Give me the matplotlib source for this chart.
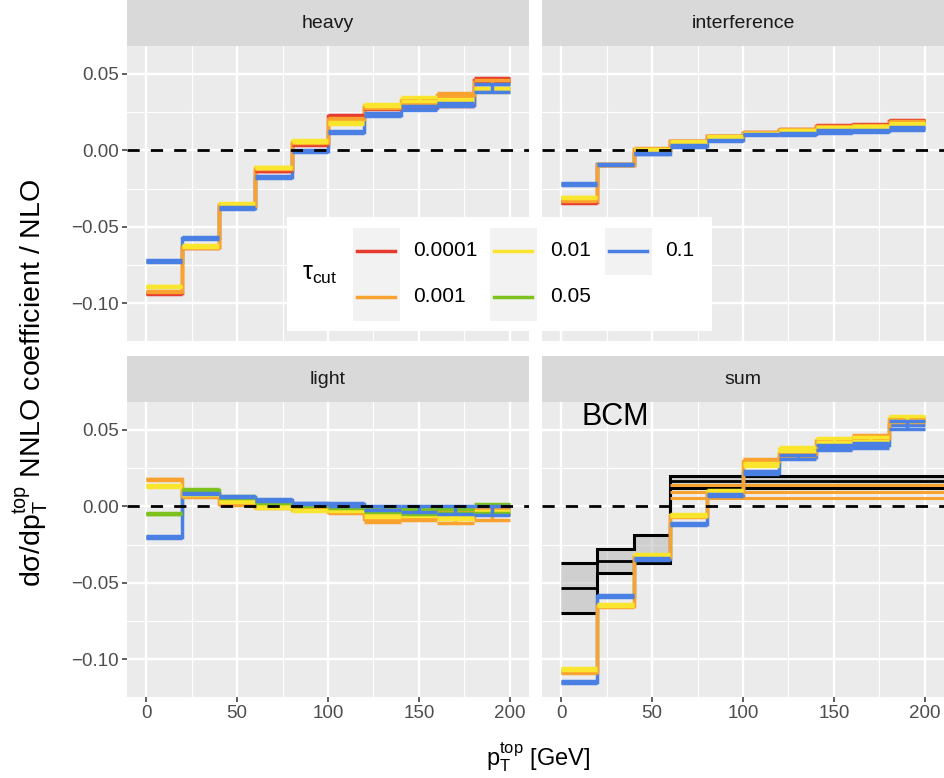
import numpy as np
import matplotlib.pyplot as plt
from matplotlib.patches import Rectangle
from matplotlib.lines import Line2D
from matplotlib.ticker import FuncFormatter

plt.rcParams['font.family'] = ['Liberation Sans', 'DejaVu Sans']
plt.rcParams['mathtext.fontset'] = 'custom'
plt.rcParams['mathtext.rm'] = 'Liberation Sans'
plt.rcParams['mathtext.it'] = 'Liberation Sans:italic'
plt.rcParams['mathtext.bf'] = 'Liberation Sans:bold'

# ---------------- datos ----------------
edges = np.arange(0, 201, 20)
taus = ['0.0001', '0.001', '0.01', '0.05', '0.1']
tau_colors = ['#E63B2E', '#F9A22F', '#F9E52E', '#7DC11D', '#4A80E4']
panels = ['heavy', 'interference', 'light', 'sum']

heavy_val = {
    '0.0001': [-0.0935, -0.0632, -0.0355, -0.0134, 0.0039, 0.0223, 0.0277, 0.0297, 0.0303, 0.0461],
    '0.001':  [-0.0924, -0.0635, -0.0362, -0.0120, 0.0050, 0.0208, 0.0282, 0.0322, 0.0362, 0.0448],
    '0.01':   [-0.0890, -0.0625, -0.0350, -0.0112, 0.0060, 0.0180, 0.0297, 0.0336, 0.0328, 0.0396],
    '0.1':    [-0.0725, -0.0573, -0.0378, -0.0173, -0.0005, 0.0119, 0.0234, 0.0277, 0.0300, 0.0409],
}
heavy_err = {
    '0.0001': [0.0004, 0.0004, 0.0004, 0.0004, 0.0005, 0.0006, 0.0008, 0.0008, 0.0010, 0.0010],
    '0.001':  [0.0004, 0.0004, 0.0004, 0.0004, 0.0005, 0.0006, 0.0008, 0.0010, 0.0015, 0.0012],
    '0.01':   [0.0005, 0.0005, 0.0005, 0.0005, 0.0006, 0.0008, 0.0008, 0.0010, 0.0010, 0.0012],
    '0.1':    [0.0005, 0.0005, 0.0005, 0.0006, 0.0006, 0.0008, 0.0010, 0.0010, 0.0012, 0.0024],
}

interf_val = {
    '0.0001': [-0.0340, -0.0094, 0.0000, 0.0058, 0.0092, 0.0116, 0.0134, 0.0162, 0.0169, 0.0195],
    '0.001':  [-0.0329, -0.0094, 0.0010, 0.0060, 0.0093, 0.0115, 0.0133, 0.0156, 0.0163, 0.0185],
    '0.01':   [-0.0307, -0.0091, 0.0006, 0.0054, 0.0090, 0.0112, 0.0130, 0.0150, 0.0158, 0.0175],
    '0.1':    [-0.0221, -0.0091, -0.0022, 0.0028, 0.0065, 0.0104, 0.0108, 0.0123, 0.0127, 0.0143],
}
interf_err = {
    '0.0001': [0.0004] * 10,
    '0.001':  [0.0004] * 10,
    '0.01':   [0.0004] * 10,
    '0.1':    [0.0004, 0.0004, 0.0004, 0.0004, 0.0005, 0.0005, 0.0006, 0.0008, 0.0008, 0.0008],
}

light_val = {
    '0.001': [0.0176, 0.0067, 0.0013, -0.0005, -0.0017, -0.0037, -0.0080, -0.0075, -0.0070, -0.0048],
    '0.01':  [0.0133, 0.0080, 0.0035, -0.0005, -0.0026, -0.0020, -0.0057, -0.0052, -0.0072, -0.0040],
    '0.05':  [-0.0048, 0.0107, 0.0060, 0.0030, 0.0008, -0.0002, -0.0030, -0.0035, -0.0030, -0.0013],
    '0.1':   [-0.0200, 0.0085, 0.0063, 0.0041, 0.0020, 0.0013, -0.0010, -0.0018, -0.0025, -0.0027],
}
light_err = {
    '0.001': [0.0005, 0.0005, 0.0005, 0.0005, 0.0005, 0.0008, 0.0025, 0.0015, 0.0040, 0.0040],
    '0.01':  [0.0005, 0.0005, 0.0005, 0.0005, 0.0005, 0.0008, 0.0010, 0.0010, 0.0010, 0.0010],
    '0.05':  [0.0005, 0.0005, 0.0005, 0.0005, 0.0005, 0.0008, 0.0010, 0.0015, 0.0015, 0.0030],
    '0.1':   [0.0005, 0.0005, 0.0005, 0.0005, 0.0005, 0.0008, 0.0015, 0.0020, 0.0027, 0.0029],
}

sum_val = {
    '0.001': [-0.1087, -0.0650, -0.0330, -0.0065, 0.0085, 0.0300, 0.0340, 0.0425, 0.0449, 0.0565],
    '0.01':  [-0.1065, -0.0645, -0.0320, -0.0059, 0.0100, 0.0275, 0.0377, 0.0433, 0.0440, 0.0575],
    '0.1':   [-0.1152, -0.0586, -0.0346, -0.0118, 0.0074, 0.0220, 0.0322, 0.0384, 0.0399, 0.0530],
}
sum_err = {
    '0.001': [0.0006, 0.0006, 0.0006, 0.0006, 0.0008, 0.0010, 0.0012, 0.0012, 0.0015, 0.0015],
    '0.01':  [0.0006, 0.0006, 0.0006, 0.0006, 0.0008, 0.0010, 0.0012, 0.0012, 0.0015, 0.0015],
    '0.1':   [0.0006, 0.0006, 0.0006, 0.0006, 0.0008, 0.0010, 0.0012, 0.0015, 0.0015, 0.0027],
}

# banda BCM (panel sum)
bcm_edges = [0, 20, 40, 60, 250]
bcm_upper = [-0.0373, -0.0277, -0.0190, 0.0200]
bcm_center = [-0.0536, -0.0357, -0.0365, 0.0169]
bcm_lower = [-0.0695, -0.0438, -0.0368, 0.0117]
bcm_orange = [0.0137, 0.0093, 0.0053]

panel_data = {
    'heavy': (heavy_val, heavy_err),
    'interference': (interf_val, interf_err),
    'light': (light_val, light_err),
    'sum': (sum_val, sum_err),
}

# ---------------- figura ----------------
W, H = 945, 778
fig = plt.figure(figsize=(W / 100, H / 100), dpi=100)


def fx(x):
    return x / W


def fy(y):
    return 1 - y / H


cols = [(127, 529), (542, 944)]
rows = [(46, 341), (402, 697)]
strip_h = 46

axes = {}
for i, name in enumerate(panels):
    r, c = divmod(i, 2)
    x0, x1 = cols[c]
    y0, y1 = rows[r]
    ax = fig.add_axes([fx(x0), fy(y1), fx(x1 - x0), (y1 - y0) / H])
    sax = fig.add_axes([fx(x0), fy(y0), fx(x1 - x0), strip_h / H])
    sax.set_facecolor('#D9D9D9')
    sax.set_xticks([])
    sax.set_yticks([])
    for s in sax.spines.values():
        s.set_visible(False)
    sax.text(0.5, 0.5, name, ha='center', va='center', fontsize=14,
             color='#1A1A1A', transform=sax.transAxes)

    ax.set_facecolor('#EBEBEB')
    for s in ax.spines.values():
        s.set_visible(False)
    ax.set_xlim(-10.5, 210.5)
    ax.set_ylim(-0.1248, 0.0683)
    ax.set_xticks([0, 50, 100, 150, 200])
    ax.set_xticks([25, 75, 125, 175], minor=True)
    ax.set_yticks([-0.10, -0.05, 0.0, 0.05])
    ax.set_yticks([-0.075, -0.025, 0.025], minor=True)
    ax.yaxis.set_major_formatter(FuncFormatter(lambda v, p: f'{v:.2f}'.replace('-', '\u2212')))
    ax.grid(which='major', color='white', lw=1.7)
    ax.grid(which='minor', color='white', lw=0.8)
    ax.set_axisbelow(True)
    ax.tick_params(which='major', length=3.5, width=1.1, color='#333333',
                   labelcolor='#4D4D4D', labelsize=13.5, pad=2.5)
    ax.tick_params(which='minor', length=0)
    if c == 1:
        ax.tick_params(left=False, labelleft=False)
    if r == 0:
        ax.tick_params(bottom=False, labelbottom=False)
    axes[name] = ax

mids = (edges[:-1] + edges[1:]) / 2

# banda BCM
ax = axes['sum']
ax.stairs(bcm_upper, bcm_edges, baseline=bcm_lower, fill=True, color='#B5B5B5',
          alpha=0.5, zorder=2)
for vals, lw in [(bcm_upper, 2.2), (bcm_center, 2.0), (bcm_lower, 2.2)]:
    ax.stairs(vals, bcm_edges, baseline=None, color='black', lw=lw, zorder=2.5)
for v in bcm_orange:
    ax.hlines(v, bcm_edges[3], bcm_edges[4], color='#F9A22F', lw=2.2, zorder=2.6)
ax.text(30, 0.0585, 'BCM', fontsize=22, ha='center', va='center', color='black')

# series: primero los escalones, luego las barras de error
step_order = ['0.0001', '0.01', '0.05', '0.1', '0.001']
lw_s = 2.5
for name in panels:
    ax = axes[name]
    vals, errs = panel_data[name]
    for tau in step_order:
        if tau in vals:
            col = tau_colors[taus.index(tau)]
            ax.stairs(vals[tau], edges, baseline=None, color=col, lw=lw_s, zorder=3)
    for tau, col in zip(taus, tau_colors):
        if tau not in vals:
            continue
        v = np.array(vals[tau])
        e = np.array(errs[tau])
        ax.hlines(v + e, edges[:-1], edges[1:], color=col, lw=lw_s, zorder=3.2)
        ax.hlines(v - e, edges[:-1], edges[1:], color=col, lw=lw_s, zorder=3.2)
        ax.vlines(mids, v - e, v + e, color=col, lw=lw_s, zorder=3.2)
    ax.axhline(0, color='black', lw=2.0, linestyle=(0, (4.4, 4.0)), zorder=4)

# etiquetas de ejes
fig.text(fx(538), fy(757), r'p$_{\mathrm{T}}^{\mathrm{top}}$ [GeV]', ha='center',
         va='center', fontsize=17, color='black')
fig.text(fx(31), fy(383), r'd$\mathrm{\sigma}$/dp$_{\mathrm{T}}^{\mathrm{top}}$ NNLO coefficient / NLO',
         ha='center', va='center', rotation=90, fontsize=20.5, color='black')

# leyenda
fig.patches.append(Rectangle((fx(287), fy(331)), fx(712 - 287), (331 - 217) / H,
                             transform=fig.transFigure, facecolor='white',
                             edgecolor='none', zorder=20))
key_boxes = [(353, 228, 400, 321), (490, 228, 537, 321), (605, 228, 652, 275)]
for (a, b, cc, d) in key_boxes:
    fig.patches.append(Rectangle((fx(a), fy(d)), fx(cc - a), (d - b) / H,
                                 transform=fig.transFigure, facecolor='#F2F2F2',
                                 edgecolor='none', zorder=21))
key_pos = [(353, 251), (353, 297), (490, 251), (490, 297), (605, 251)]
for (kx, ky), tau, col in zip(key_pos, taus, tau_colors):
    fig.lines.append(Line2D([fx(kx + 4), fx(kx + 42)], [fy(ky), fy(ky)],
                            transform=fig.transFigure, color=col, lw=2.5, zorder=22))
    fig.text(fx(kx + 60), fy(ky), tau, fontsize=15, ha='left', va='center',
             color='black', zorder=23)
fig.text(fx(302), fy(274), r'τ$_{\mathrm{cut}}$', fontsize=18, ha='left', va='center',
         color='black', zorder=23)

fig.savefig('out.png', dpi=100)
